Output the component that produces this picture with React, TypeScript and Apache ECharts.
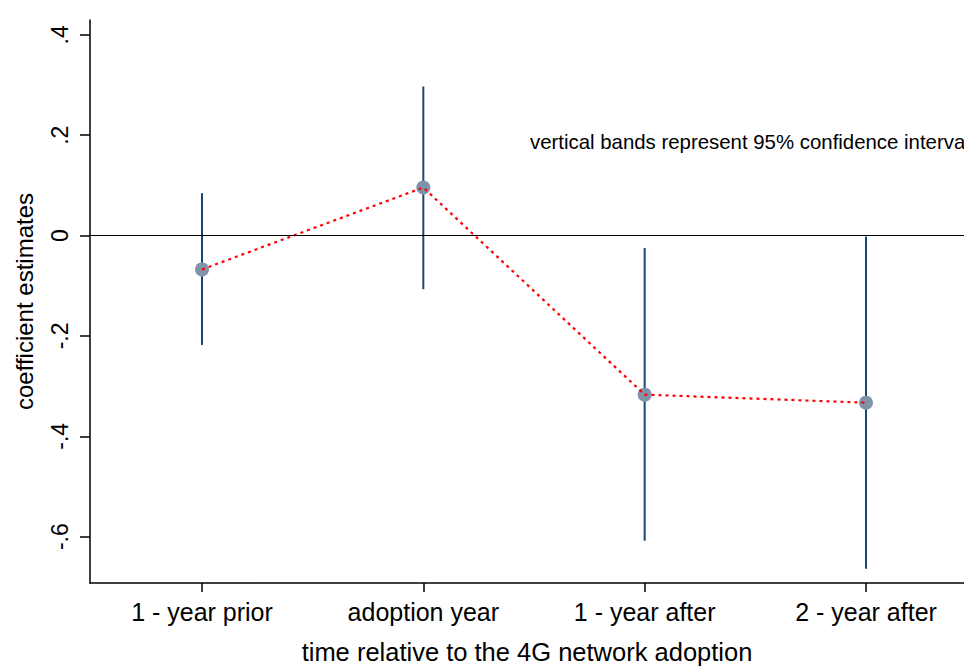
import React, { useEffect, useRef } from "react";
import * as echarts from "echarts";

const categories = ["1 - year prior", "adoption year", "1 - year after", "2 - year after"];
const positions = [1, 2, 3, 4];
const estimates = [-0.0675, 0.0957, -0.317, -0.333];
const ciLow = [-0.218, -0.107, -0.608, -0.664];
const ciHigh = [0.0845, 0.297, -0.025, -0.002];
const yTicks = [-0.6, -0.4, -0.2, 0, 0.2, 0.4];
const note = "vertical bands represent 95% confidence interval";

const FONT = "Liberation Sans, Arial, Helvetica, sans-serif";

function fmtY(v: number): string {
  if (Math.abs(v) < 1e-9) return "0";
  const s = v.toFixed(1);
  return s.replace(/^(-?)0\./, "$1.");
}

export default function App() {
  const ref = useRef<HTMLDivElement>(null);
  useEffect(() => {
    document.body.style.margin = "0";
    if (!ref.current) return;
    const chart = echarts.init(ref.current, null, { renderer: "svg" });
    const ciData = positions.map((p, i) => [p, ciLow[i], ciHigh[i]]);
    const ptData = positions.map((p, i) => [p, estimates[i]]);
    chart.setOption({
      animation: false,
      backgroundColor: "#ffffff",
      grid: { left: 90, top: 20, right: 0, bottom: 79, containLabel: false },
      xAxis: {
        type: "value",
        min: 0.494,
        max: 4.4428,
        name: "time relative to the 4G network adoption",
        nameLocation: "middle",
        nameGap: 56,
        nameTextStyle: { fontFamily: FONT, fontSize: 25.5, color: "#000" },
        axisLine: { show: true, onZero: false, lineStyle: { color: "#000", width: 1.5 } },
        axisTick: { show: true, length: 9, customValues: positions, lineStyle: { color: "#000", width: 1.5 } },
        axisLabel: {
          customValues: positions,
          margin: 16,
          fontFamily: FONT,
          fontSize: 25,
          color: "#000",
          formatter: (v: number) => categories[Math.round(v) - 1] ?? "",
        },
        splitLine: { show: false },
      },
      yAxis: {
        type: "value",
        min: -0.6923,
        max: 0.4295,
        name: "coefficient estimates",
        nameLocation: "middle",
        nameGap: 54,
        nameTextStyle: { fontFamily: FONT, fontSize: 24, color: "#000" },
        axisLine: { show: true, lineStyle: { color: "#000", width: 1.5 } },
        axisTick: { show: true, length: 10, customValues: yTicks, lineStyle: { color: "#000", width: 1.5 } },
        axisLabel: {
          customValues: yTicks,
          rotate: 90,
          margin: 19,
          fontFamily: FONT,
          fontSize: 23,
          color: "#000",
          formatter: (v: number) => fmtY(v),
        },
        splitLine: { show: false },
      },
      graphic: [
        {
          type: "text",
          x: 530,
          y: 142,
          style: {
            text: note,
            fontFamily: FONT,
            fontSize: 20.4,
            fill: "#000",
            verticalAlign: "middle",
            align: "left",
          },
        },
      ],
      series: [
        {
          type: "custom",
          name: "ci",
          data: ciData,
          z: 2,
          renderItem: (params: any, api: any) => {
            const x = api.value(0);
            const p1 = api.coord([x, api.value(1)]);
            const p2 = api.coord([x, api.value(2)]);
            return {
              type: "line",
              shape: { x1: p1[0], y1: p1[1], x2: p2[0], y2: p2[1] },
              style: { stroke: "#1a476f", lineWidth: 2 },
            };
          },
          markLine: {
            silent: true,
            symbol: "none",
            label: { show: false },
            lineStyle: { color: "#000", width: 1.2, type: "solid" },
            data: [{ yAxis: 0 }],
          },
        },
        {
          type: "scatter",
          name: "est",
          data: ptData,
          symbol: "circle",
          symbolSize: 14,
          itemStyle: { color: "#7f93aa", opacity: 1 },
          z: 3,
        },
        {
          type: "line",
          name: "path",
          data: ptData,
          symbol: "none",
          lineStyle: { color: "#ff0000", width: 2.2, type: [3, 4] },
          z: 4,
        },
      ],
    });
    return () => chart.dispose();
  }, []);
  return <div ref={ref} style={{ width: 964, height: 670 }} />;
}
